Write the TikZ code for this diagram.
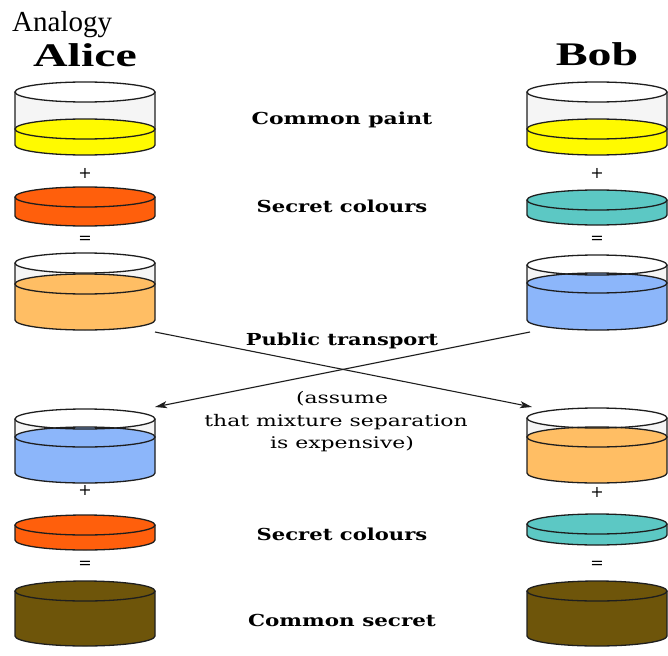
\documentclass[tikz,border=0pt]{standalone}
\usepackage{fontspec}
\usepackage{graphicx}
\setmainfont{Liberation Serif}
\newfontfamily\lblfont{DejaVu Serif}
\usetikzlibrary{arrows.meta}

\definecolor{edgecol}{RGB}{30,30,30}
\definecolor{glass}{RGB}{245,245,245}
\definecolor{paint}{RGB}{255,250,0}
\definecolor{aliceSecret}{RGB}{255,95,12}
\definecolor{bobSecret}{RGB}{92,200,196}
\definecolor{aliceMix}{RGB}{255,190,100}
\definecolor{bobMix}{RGB}{140,182,250}
\definecolor{shared}{RGB}{110,85,10}

\def\rx{70}
\def\ry{10}

\tikzset{
  rimline/.style={draw=edgecol, line width=1.3pt},
  transport/.style={draw=edgecol, line width=1.1pt, -{Stealth[length=12pt,width=7pt,inset=3pt]}},
  label/.style={font=\lblfont\bfseries\fontsize{16.5}{18}\selectfont, anchor=base},
  note/.style={font=\lblfont\fontsize{16}{18}\selectfont, anchor=base},
  sign/.style={font=\lblfont\fontsize{16}{16}\selectfont},
  person/.style={font=\bfseries\fontsize{33}{34}\selectfont, anchor=base},
}

\newcommand{\stretched}[2]{\scalebox{#1}[1]{#2}}

% glass jar: centre x, rim centre y, liquid surface y, bottom centre y, liquid colour
\newcommand{\jar}[5]{%
  \fill[glass] ({#1-\rx},{-#2}) rectangle ({#1+\rx},{-#3});
  \fill[white] (#1,{-#2}) ellipse[x radius=\rx, y radius=\ry];
  \fill[#5] ({#1-\rx},{-#3}) -- ({#1-\rx},{-#4})
     arc[start angle=180, end angle=360, x radius=\rx, y radius=\ry]
     -- ({#1+\rx},{-#3}) -- cycle;
  \draw[rimline] ({#1-\rx},{-#2}) -- ({#1-\rx},{-#4})
     arc[start angle=180, end angle=360, x radius=\rx, y radius=\ry]
     -- ({#1+\rx},{-#2});
  \draw[rimline, fill=#5] (#1,{-#3}) ellipse[x radius=\rx, y radius=\ry];
  \draw[rimline] (#1,{-#2}) ellipse[x radius=\rx, y radius=\ry];
}

% solid disc of colour: centre x, top centre y, bottom centre y, colour
\newcommand{\disc}[4]{%
  \fill[#4] ({#1-\rx},{-#2}) -- ({#1-\rx},{-#3})
     arc[start angle=180, end angle=360, x radius=\rx, y radius=\ry]
     -- ({#1+\rx},{-#2}) -- cycle;
  \draw[rimline] ({#1-\rx},{-#2}) -- ({#1-\rx},{-#3})
     arc[start angle=180, end angle=360, x radius=\rx, y radius=\ry]
     -- ({#1+\rx},{-#2});
  \draw[rimline, fill=#4] (#1,{-#2}) ellipse[x radius=\rx, y radius=\ry];
}

\begin{document}
\begin{tikzpicture}[x=1pt, y=1pt]
\useasboundingbox (0,0) rectangle (668,-655);

% headings
\node[anchor=base west, font=\fontsize{29}{30}\selectfont, inner sep=0pt] (title) at (12,-32) {Analogy};
\node[person] (alice) at (85,-67) {\stretched{1.45}{Alice}};
\node[person] (bob) at (597,-66) {\stretched{1.45}{Bob}};

% Alice's column
\jar{85}{92}{129}{145}{paint}
\node[sign] (ap1) at (85,-173) {+};
\disc{85}{197}{216}{aliceSecret}
\node[sign] (ae1) at (85,-240) {=};
\jar{85}{263}{284}{320}{aliceMix}
\jar{85}{419}{437}{473}{bobMix}
\node[sign] (ap2) at (85,-490) {+};
\disc{85}{525}{540}{aliceSecret}
\node[sign] (ae2) at (85,-565) {=};
\disc{85}{591}{636}{shared}

% Bob's column
\jar{597}{92}{129}{145}{paint}
\node[sign] (bp1) at (597,-173) {+};
\disc{597}{200}{215}{bobSecret}
\node[sign] (be1) at (597,-240) {=};
\jar{597}{265}{283}{320}{bobMix}
\jar{597}{418}{437}{473}{aliceMix}
\node[sign] (bp2) at (597,-492) {+};
\disc{597}{524}{535}{bobSecret}
\node[sign] (be2) at (597,-565) {=};
\disc{597}{591}{636}{shared}

% captions
\node[label] (common) at (342,-125) {\stretched{1.33}{Common paint}};
\node[label] (secretA) at (342,-212) {\stretched{1.28}{Secret colours}};
\node[label] (public) at (342,-345) {\stretched{1.27}{Public transport}};
\node[note] (assume1) at (342,-403) {\stretched{1.37}{(assume}};
\node[note] (assume2) at (336,-426) {\stretched{1.37}{that mixture separation}};
\node[note] (assume3) at (342,-448) {\stretched{1.37}{is expensive)}};
\node[label] (secretB) at (342,-540) {\stretched{1.28}{Secret colours}};
\node[label] (secret) at (342,-626) {\stretched{1.30}{Common secret}};

% exchange of the mixtures
\coordinate (aliceOut) at (155,-332);
\coordinate (bobIn) at (532,-407);
\coordinate (bobOut) at (530,-332);
\coordinate (aliceIn) at (155,-407);
\draw[transport] (aliceOut) -- (bobIn);
\draw[transport] (bobOut) -- (aliceIn);
\end{tikzpicture}
\end{document}
